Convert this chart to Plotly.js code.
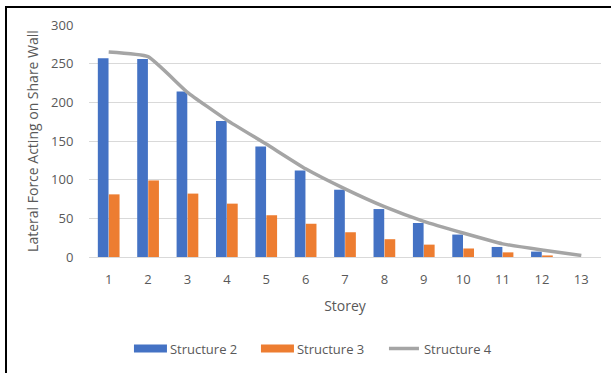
<!DOCTYPE html>
<html>
<head>
<meta charset="utf-8">
<script src="https://cdn.plot.ly/plotly-3.0.1.min.js"></script>
<style>
  html, body { margin: 0; padding: 0; background: #fff; }
  #wrap { position: relative; width: 611px; height: 373px; }
  #chart { width: 611px; height: 373px; }
  #frame {
    position: absolute; left: 5px; top: 6px; right: 0; bottom: 0;
    border-top: 2.5px solid #000; border-left: 2.5px solid #000;
    pointer-events: none;
  }
</style>
</head>
<body>
<div id="wrap">
  <div id="chart"></div>
  <div id="frame"></div>
</div>
<script>
// Storey numbers along the x axis
const storeys = ['1','2','3','4','5','6','7','8','9','10','11','12','13'];

// Lateral force acting on the shear wall, per storey
const structure2 = [257, 256, 214, 176, 143, 112, 87, 62, 44, 29, 13, 7, 0];
const structure3 = [81, 99, 82, 69, 54, 43, 32, 23, 16, 11, 6, 2, 0];
const structure4 = [265, 259, 213, 177, 146, 114, 88, 65, 46, 31, 17, 9, 2];

const yTicks = [0, 50, 100, 150, 200, 250, 300];

const FONT = 'Open Sans, Liberation Sans, sans-serif';
const GREY_TEXT = '#595959';

const traces = [
  {
    type: 'bar', name: 'Structure 2', x: storeys, y: structure2,
    marker: { color: '#4472C4' }
  },
  {
    type: 'bar', name: 'Structure 3', x: storeys, y: structure3,
    marker: { color: '#ED7D31' }
  },
  {
    type: 'scatter', mode: 'lines', name: 'Structure 4', x: storeys, y: structure4,
    line: { color: '#A5A5A5', width: 3.5, shape: 'spline', smoothing: 0.4 }
  }
];

const layout = {
  width: 611, height: 373,
  margin: { l: 89, r: 10, t: 25, b: 113 },
  paper_bgcolor: '#fff', plot_bgcolor: '#fff',
  font: { family: FONT, color: GREY_TEXT, size: 13 },
  barmode: 'group', bargap: 0.44, bargroupgap: 0.03,
  showlegend: true,
  legend: {
    orientation: 'h', x: 0.08, xanchor: 'left', y: -0.395, yanchor: 'middle',
    font: { family: FONT, size: 13, color: GREY_TEXT },
    itemclick: false, traceorder: 'normal',
    entrywidth: 82, entrywidthmode: 'pixels', itemgap: 0
  },
  xaxis: {
    type: 'category',
    showgrid: false, zeroline: false,
    showline: false,
    ticks: 'outside', ticklen: 10, tickcolor: 'rgba(0,0,0,0)',
    tickfont: { family: FONT, size: 13, color: GREY_TEXT },
    title: { text: 'Storey', font: { family: FONT, size: 14, color: GREY_TEXT }, standoff: 14 }
  },
  yaxis: {
    range: [0, 300], tickvals: yTicks,
    showgrid: true, gridcolor: '#D9D9D9', gridwidth: 1,
    zeroline: true, zerolinecolor: '#D9D9D9', zerolinewidth: 1,
    showline: false,
    ticks: 'outside', ticklen: 12, tickcolor: 'rgba(0,0,0,0)',
    tickfont: { family: FONT, size: 13, color: GREY_TEXT },
    title: { text: 'Lateral Force Acting on Share Wall', font: { family: FONT, size: 14, color: GREY_TEXT }, standoff: 9 }
  }
};

// wide, flat legend swatches for the bar series
function widenBarSwatches(gd) {
  gd.querySelectorAll('g.legendpoints path').forEach(function (p) {
    const d = p.getAttribute('d') || '';
    if (d.indexOf('M6,6') === 0) {
      p.setAttribute('d', 'M-16,4H17V-4H-16Z');
    }
  });
}

Plotly.newPlot('chart', traces, layout, { staticPlot: true, displayModeBar: false }).then(function (gd) {
  widenBarSwatches(gd);
  gd.on('plotly_afterplot', function () { widenBarSwatches(gd); });
  setTimeout(function () { widenBarSwatches(gd); }, 50);
});
</script>
</body>
</html>
